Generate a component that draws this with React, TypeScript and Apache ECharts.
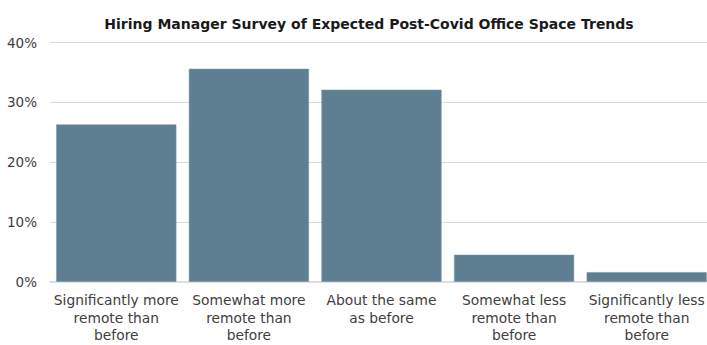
import React, { useEffect, useRef } from "react";
import * as echarts from "echarts";

const categories: string[] = [
  "Significantly more\nremote than\nbefore",
  "Somewhat more\nremote than\nbefore",
  "About the same\nas before",
  "Somewhat less\nremote than\nbefore",
  "Significantly less\nremote than\nbefore",
];
const values: number[] = [26.3, 35.6, 32.1, 4.5, 1.6];
const yTicks: number[] = [0, 10, 20, 30, 40];

const FONT = "'DejaVu Sans', sans-serif";

export default function App() {
  const ref = useRef<HTMLDivElement>(null);
  useEffect(() => {
    document.body.style.margin = "0";
    document.body.style.overflow = "hidden";
    document.documentElement.style.overflow = "hidden";
    if (!ref.current) return;
    const chart = echarts.init(ref.current, undefined, { renderer: "svg", width: 707, height: 345 });
    chart.setOption({
      animation: false,
      backgroundColor: "#ffffff",
      title: {
        text: "Hiring Manager Survey of Expected Post-Covid Office Space Trends",
        left: 364,
        textAlign: "center",
        top: 12,
        textStyle: { fontFamily: FONT, fontSize: 14, fontWeight: "bold", color: "#1a1a1a" },
      },
      grid: {
        left: 50,
        top: 42.5,
        width: 663,
        height: 239.2,
        containLabel: false,
        outerBoundsMode: "none",
      },
      xAxis: {
        type: "category",
        data: categories,
        axisTick: { show: false },
        axisLine: { show: true, lineStyle: { color: "#d9d9d9", width: 1.5 } },
        axisLabel: {
          interval: 0,
          margin: 10,
          fontFamily: FONT,
          fontSize: 13.8,
          lineHeight: 17.5,
          color: "#404040",
        },
      },
      yAxis: {
        type: "value",
        min: yTicks[0],
        max: yTicks[yTicks.length - 1],
        interval: 10,
        axisLine: { show: false },
        axisTick: { show: false },
        splitLine: { lineStyle: { color: "#d9d9d9", width: 1 } },
        axisLabel: {
          margin: 13,
          fontFamily: FONT,
          fontSize: 13.5,
          color: "#404040",
          formatter: (v: number) => v + "%",
        },
      },
      series: [
        {
          type: "bar",
          data: values,
          barCategoryGap: "9.4%",
          itemStyle: { color: "#5d7f91", borderColor: "#7896a6", borderWidth: 0.6 },
        },
      ],
    });
    return () => chart.dispose();
  }, []);
  return (
    <div
      ref={ref}
      style={{ position: "absolute", left: 0, top: 0, width: 707, height: 345, overflow: "hidden" }}
    />
  );
}
